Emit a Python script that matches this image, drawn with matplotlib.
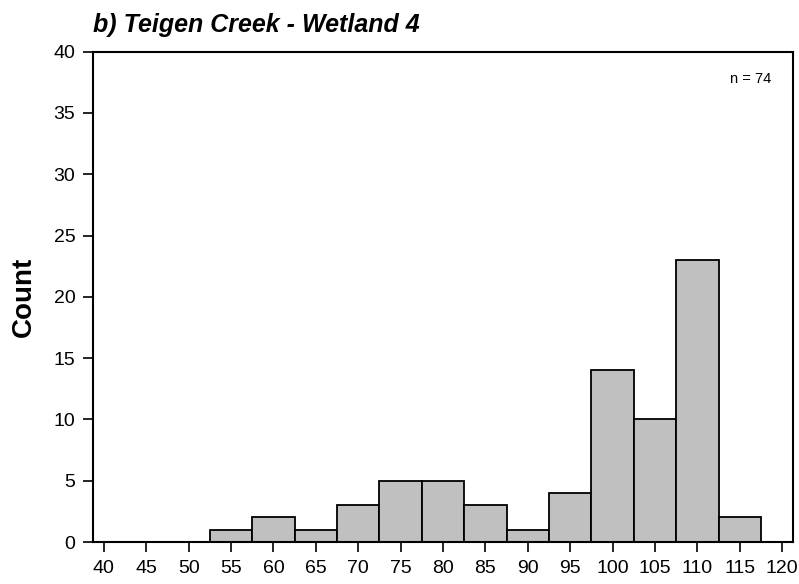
import matplotlib
matplotlib.use("Agg")
import matplotlib.pyplot as plt

# Histogram bins (centres, width 5) and counts
bin_centres = [55, 60, 65, 70, 75, 80, 85, 90, 95, 100, 105, 110, 115]
counts = [1, 2, 1, 3, 5, 5, 3, 1, 4, 14, 10, 23, 2]
bin_width = 5
x_ticks = list(range(40, 125, 5))
y_ticks = list(range(0, 45, 5))

plt.rcParams['font.family'] = ['Liberation Sans', 'DejaVu Sans']

fig = plt.figure(figsize=(7.99, 5.84), dpi=100)
ax = fig.add_axes([0.1168, 0.0719, 0.8753, 0.8396])

ax.bar(bin_centres, counts, width=bin_width, color="#c0c0c0",
       edgecolor="black", linewidth=1.3, zorder=2)

ax.set_xlim(38.75, 121.25)
ax.set_ylim(0, 40)
ax.set_xticks(x_ticks)
ax.set_yticks(y_ticks)
ax.tick_params(direction="out", length=7, width=1.2, labelsize=14)
ax.tick_params(axis="x", pad=6)
ax.tick_params(axis="y", pad=6)

for side in ax.spines.values():
    side.set_linewidth(1.5)

ax.set_ylabel("Count", fontsize=20, fontweight="bold", labelpad=12)
ax.text(0.0, 1.03, "b) Teigen Creek - Wetland 4", transform=ax.transAxes,
        fontsize=18, fontweight="bold", fontstyle="italic", ha="left", va="bottom")
ax.text(0.969, 0.945, "n = 74", transform=ax.transAxes, fontsize=10.5,
        ha="right", va="center")

fig.savefig("out.png", dpi=100)
plt.close(fig)
